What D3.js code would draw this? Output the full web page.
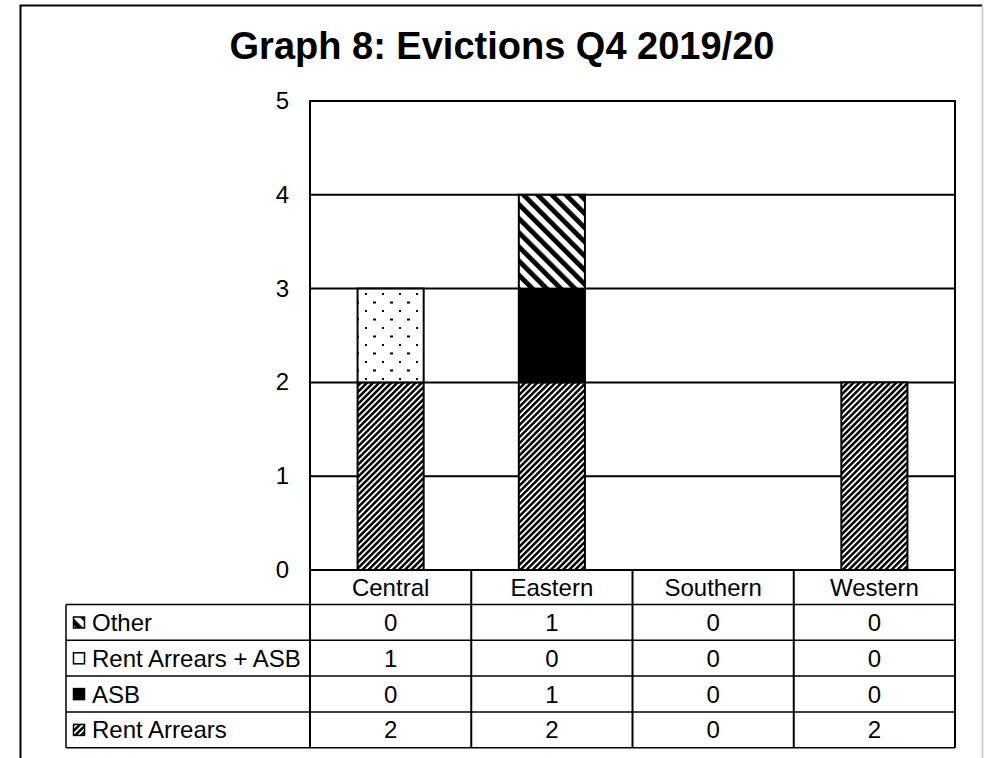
<!DOCTYPE html>
<html><head><meta charset="utf-8">
<script src="https://cdn.jsdelivr.net/npm/d3@7"></script>
<style>body{margin:0;background:#fff}svg{display:block}text{font-family:"Liberation Sans",Arial,sans-serif}</style>
</head><body>
<script>
const categories = ["Central","Eastern","Southern","Western"];
const seriesNames = ["Rent Arrears","ASB","Rent Arrears + ASB","Other"];
const rentArrears = [2,2,0,2];
const asb = [0,1,0,0];
const rentArrearsASB = [1,0,0,0];
const other = [0,1,0,0];
const yTicks = [0,1,2,3,4,5];
const title = "Graph 8: Evictions Q4 2019/20";

(function(){
const W=984,H=758;
const svg=d3.select("body").append("svg").attr("width",W).attr("height",H);
const defs=svg.append("defs");
const pRA=defs.append("pattern").attr("id","pRA").attr("patternUnits","userSpaceOnUse")
  .attr("width",4.3).attr("height",4.3).attr("patternTransform","rotate(45)");
pRA.append("rect").attr("width",4.3).attr("height",4.3).attr("fill","#fff");
pRA.append("rect").attr("width",2.5).attr("height",4.3).attr("fill","#000");
const pASB=defs.append("pattern").attr("id","pASB").attr("patternUnits","userSpaceOnUse").attr("width",4).attr("height",4);
pASB.append("rect").attr("width",4).attr("height",4).attr("fill","#000");
const pDot=defs.append("pattern").attr("id","pDot").attr("patternUnits","userSpaceOnUse").attr("width",17).attr("height",17).attr("x",357).attr("y",290);
pDot.append("rect").attr("width",17).attr("height",17).attr("fill","#fff");
pDot.append("rect").attr("x",8).attr("y",3).attr("width",2).attr("height",2).attr("fill","#000");
pDot.append("rect").attr("x",16).attr("y",11.5).attr("width",2).attr("height",2).attr("fill","#000");
pDot.append("rect").attr("x",0).attr("y",11.5).attr("width",2).attr("height",2).attr("fill","#000");
const pOth=defs.append("pattern").attr("id","pOth").attr("patternUnits","userSpaceOnUse")
  .attr("width",10).attr("height",10).attr("patternTransform","rotate(-45)");
pOth.append("rect").attr("width",10).attr("height",10).attr("fill","#fff");
pOth.append("rect").attr("width",4.8).attr("height",10).attr("fill","#000");
const fills={"Rent Arrears":"url(#pRA)","ASB":"url(#pASB)","Rent Arrears + ASB":"url(#pDot)","Other":"url(#pOth)"};
const valuesBy={"Rent Arrears":rentArrears,"ASB":asb,"Rent Arrears + ASB":rentArrearsASB,"Other":other};

svg.append("path").attr("d","M20.5,"+H+"V5.5H982").attr("fill","none").attr("stroke","#000").attr("stroke-width",2);
svg.append("line").attr("x1",982.5).attr("x2",982.5).attr("y1",5).attr("y2",H).attr("stroke","#c8c8c8").attr("stroke-width",1.5);

svg.append("text").attr("x",502).attr("y",59).attr("text-anchor","middle")
  .attr("font-size",38).attr("font-weight","bold").text(title);

const pL=310,pR=955,pT=101,pB=570;
const xCell=d3.scaleBand().domain(categories).range([pL,pR]);
const x=d3.scaleBand().domain(categories).range([pL,pR]).paddingInner(0.59).paddingOuter(0.295);
const y=d3.scaleLinear().domain([0,5]).range([pB,pT]);
const fs=24;

svg.append("g").selectAll("line").data(yTicks).join("line")
  .attr("x1",pL).attr("x2",pR).attr("y1",d=>y(d)).attr("y2",d=>y(d))
  .attr("stroke","#000").attr("stroke-width",2);
svg.append("g").selectAll("text").data(yTicks).join("text")
  .attr("x",289).attr("y",d=>y(d)+8).attr("text-anchor","end").attr("font-size",fs).text(d=>d);

const data=categories.map((c,i)=>{const o={cat:c};seriesNames.forEach(s=>o[s]=valuesBy[s][i]);return o;});
const stacked=d3.stack().keys(seriesNames)(data);
svg.append("g").selectAll("g").data(stacked).join("g").attr("fill",d=>fills[d.key])
  .selectAll("rect").data(d=>d.filter(p=>p[1]-p[0]>0)).join("rect")
  .attr("x",d=>x(d.data.cat)).attr("width",x.bandwidth())
  .attr("y",d=>y(d[1])).attr("height",d=>y(d[0])-y(d[1]))
  .attr("stroke","#000").attr("stroke-width",2);

svg.append("rect").attr("x",pL).attr("y",pT).attr("width",pR-pL).attr("height",pB-pT)
  .attr("fill","none").attr("stroke","#000").attr("stroke-width",2);

const catTop=570,rowTop=604.5,rowH=35.8,legLeft=66;
const tableRows=["Other","Rent Arrears + ASB","ASB","Rent Arrears"];
const tbl=svg.append("g");
tbl.selectAll("text.cat").data(categories).join("text").attr("class","cat")
  .attr("x",d=>xCell(d)+xCell.bandwidth()/2).attr("y",catTop+26).attr("text-anchor","middle")
  .attr("font-size",fs).text(d=>d);
const hl=[rowTop].concat(tableRows.map((r,i)=>rowTop+(i+1)*rowH));
tbl.selectAll("line.h").data(hl).join("line").attr("class","h")
  .attr("x1",legLeft).attr("x2",pR).attr("y1",d=>d).attr("y2",d=>d)
  .attr("stroke","#000").attr("stroke-width",1.5);
const vx=categories.map(c=>xCell(c)).concat([pR]);
tbl.selectAll("line.v").data(vx).join("line").attr("class","v")
  .attr("x1",d=>d).attr("x2",d=>d).attr("y1",catTop).attr("y2",rowTop+4*rowH)
  .attr("stroke","#000").attr("stroke-width",2);
tbl.append("line").attr("x1",legLeft).attr("x2",legLeft).attr("y1",rowTop).attr("y2",rowTop+4*rowH)
  .attr("stroke","#000").attr("stroke-width",1.5);
tableRows.forEach((r,i)=>{
  const yy=rowTop+i*rowH;
  tbl.append("rect").attr("x",73.5).attr("y",yy+12.5).attr("width",11).attr("height",11)
    .attr("fill",fills[r]).attr("stroke","#000").attr("stroke-width",1.5);
  tbl.append("text").attr("x",92).attr("y",yy+26.5).attr("font-size",fs).text(r);
  tbl.selectAll(null).data(valuesBy[r]).join("text")
    .attr("x",(d,j)=>xCell(categories[j])+xCell.bandwidth()/2).attr("y",yy+26.5)
    .attr("text-anchor","middle").attr("font-size",fs).text(d=>d);
});
})();
</script>
</body></html>
